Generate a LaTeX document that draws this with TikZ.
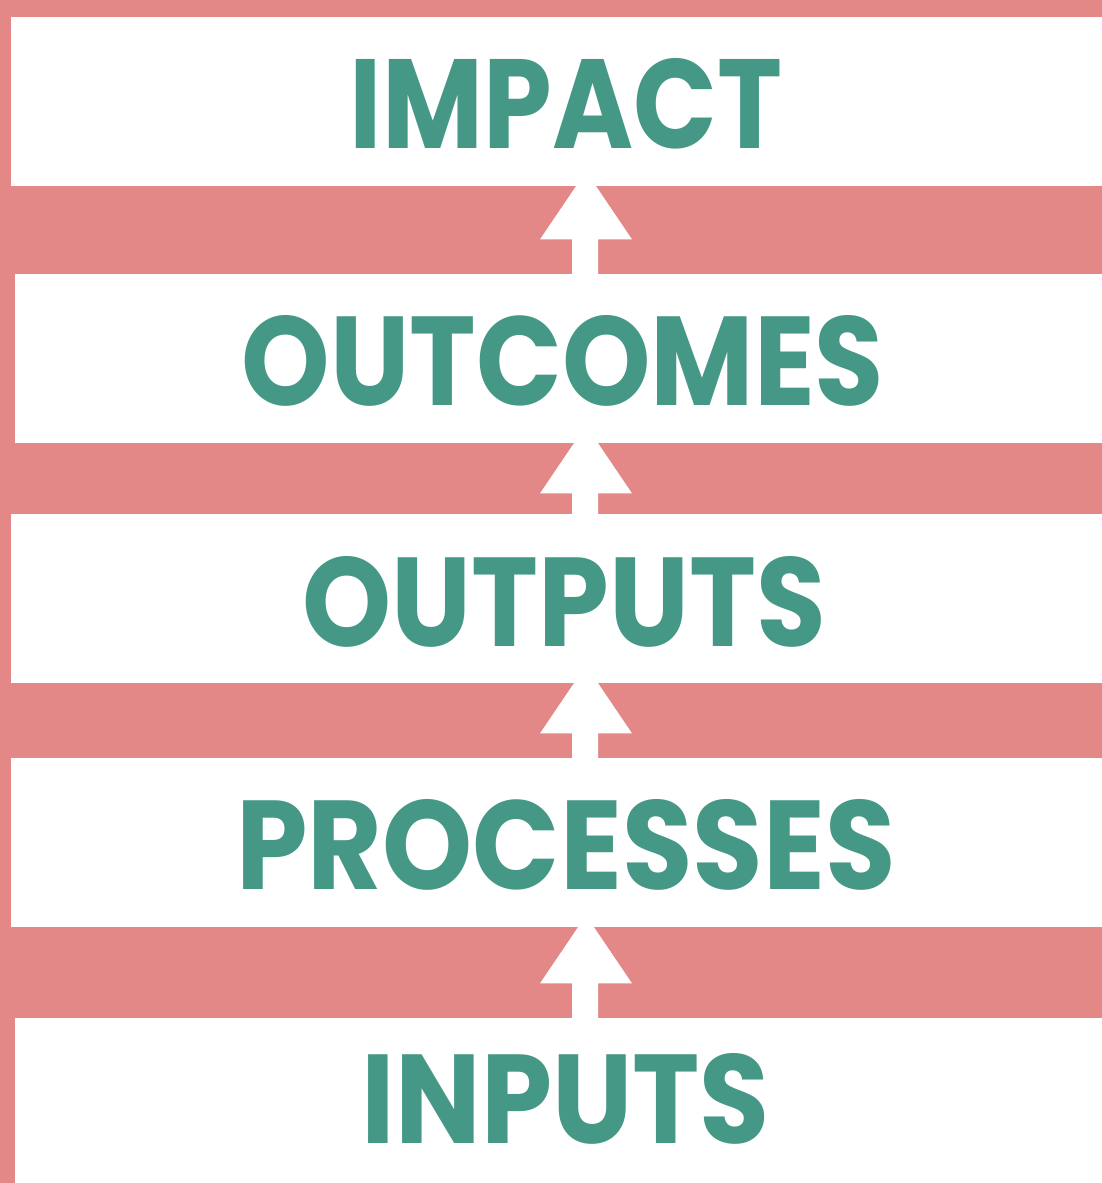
\documentclass[tikz,border=0pt]{standalone}
\usepackage{fontspec}
\usepackage{graphicx}
\newfontfamily\wordfont{Poppins Bold}
\definecolor{bandpink}{HTML}{E38787}
\definecolor{wordgreen}{HTML}{459786}
\tikzset{
	box/.style={rectangle, fill=white, inner sep=0pt, anchor=north west},
	word/.style={text=wordgreen, inner sep=0pt, anchor=base},
}
\newcommand{\stagename}[2]{\resizebox{#2pt}{90pt}{\wordfont #1}}

\begin{document}
\begin{tikzpicture}[x=1pt,y=-1pt]
	\fill[bandpink] (0,0) rectangle (1102,1183);
	\useasboundingbox (0,0) rectangle (1102,1183);
	\node[box, minimum width=1091pt, minimum height=169pt] (impact) at (11,17) {};
	\node[box, minimum width=1087pt, minimum height=169pt] (outcomes) at (15,274) {};
	\node[box, minimum width=1091pt, minimum height=169pt] (outputs) at (11,514) {};
	\node[box, minimum width=1091pt, minimum height=169pt] (processes) at (11,758) {};
	\node[box, minimum width=1087pt, minimum height=165pt] (inputs) at (15,1018) {};
	\node[word] (impact-txt) at (566,148) {\stagename{IMPACT}{432}};
	\node[word] (outcomes-txt) at (563,405) {\stagename{OUTCOMES}{642}};
	\node[word] (outputs-txt) at (564,646) {\stagename{OUTPUTS}{523}};
	\node[word] (processes-txt) at (566,889) {\stagename{PROCESSES}{659}};
	\node[word] (inputs-txt) at (566,1143) {\stagename{INPUTS}{408}};
	\foreach \lo/\hi/\h in {inputs/processes/56, processes/outputs/50, outputs/outcomes/50, outcomes/impact/53}{
		\coordinate (b) at ([yshift=-\h pt]\hi.south -| 586,0);
		\fill[white] (\lo.north -| 572,0) |- ([xshift=-46pt]b) -- ([yshift=68pt]b) -- ([xshift=46pt]b) -| (\lo.north -| 598,0) -- cycle;
	}
\end{tikzpicture}
\end{document}
